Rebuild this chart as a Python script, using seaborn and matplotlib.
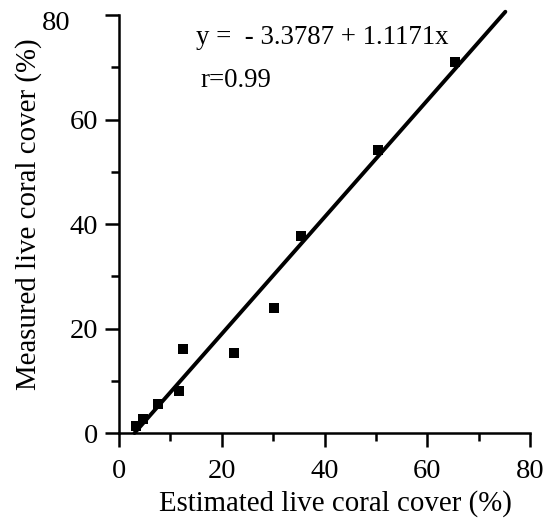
import numpy as np
import pandas as pd
import seaborn as sns
import matplotlib.pyplot as plt
from matplotlib.ticker import MultipleLocator
from matplotlib.transforms import ScaledTranslation

sns.set_theme(style="ticks")
plt.rcParams["font.family"] = ["Liberation Serif", "DejaVu Serif"]

# 数据
estimated = [3.4, 4.6, 7.5, 11.7, 12.5, 22.4, 30.2, 35.4, 50.5, 65.4]
measured = [1.4, 2.6, 5.5, 8.1, 16.1, 15.3, 23.9, 37.8, 54.2, 71.1]
intercept = -3.3787
slope = 1.1171

data = pd.DataFrame({"est": estimated, "mea": measured})

# 回归线
x_line = np.array([-intercept / slope, 75.2])
line = pd.DataFrame({"x": x_line, "y": intercept + slope * x_line})

fig = plt.figure(figsize=(5.55, 5.25), dpi=100)
ax = fig.add_axes([0.2144, 0.1752, 0.7406, 0.7962])

sns.lineplot(data=line, x="x", y="y", color="black", linewidth=2.8, ax=ax, clip_on=False)
sns.scatterplot(data=data, x="est", y="mea", marker="s", color="black",
                s=48, edgecolor="black", linewidth=0, ax=ax, zorder=3)

ax.set_xlim(0, 80)
ax.set_ylim(0, 80)
ax.xaxis.set_major_locator(MultipleLocator(20))
ax.xaxis.set_minor_locator(MultipleLocator(10))
ax.yaxis.set_major_locator(MultipleLocator(20))
ax.yaxis.set_minor_locator(MultipleLocator(10))
ax.tick_params(which="major", length=10, width=1.8, labelsize=20.5, color="black", labelcolor="black")
ax.tick_params(axis="x", which="major", pad=9)
ax.tick_params(axis="y", which="major", pad=5)
ax.tick_params(which="minor", length=6, width=1.8, color="black")
for s in ["top", "right"]:
    ax.spines[s].set_visible(False)
for s in ["left", "bottom"]:
    ax.spines[s].set_linewidth(1.8)
    ax.spines[s].set_color("black")

ax.set_xlabel("Estimated live coral cover (%)", fontsize=20.8, color="black")
ax.set_ylabel("Measured live coral cover (%)", fontsize=20.8, color="black")
ax.xaxis.set_label_coords(0.527, -0.137)
ax.yaxis.set_label_coords(-0.188, 0.524)

# 顶部的 80 标签在原图中偏左
fig.canvas.draw()
for t in ax.yaxis.get_major_ticks():
    if abs(t.get_loc() - 80) < 1e-6:
        t.label1.set_transform(t.label1.get_transform()
                               + ScaledTranslation(-0.28, -0.05, fig.dpi_scale_trans))

ax.text(15, 74.5, "y =  - 3.3787 + 1.1171x", fontsize=19.3, color="black")
ax.text(15.8, 66.3, "r=0.99", fontsize=19.3, color="black")

fig.savefig("out.png", dpi=100)
